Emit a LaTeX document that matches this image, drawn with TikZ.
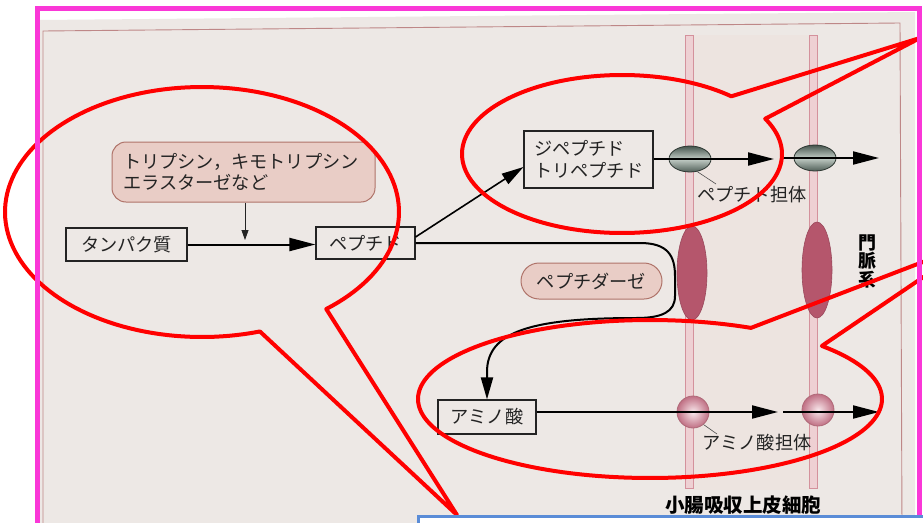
\documentclass[tikz,border=0pt]{standalone}
\usepackage{fontspec}
\newfontfamily\jp{Noto Sans CJK JP}
\usetikzlibrary{arrows.meta,shapes.geometric}
\definecolor{paper}{RGB}{237,232,229}
\definecolor{cellin}{RGB}{237,228,224}
\definecolor{frameline}{RGB}{190,135,135}
\definecolor{membr}{RGB}{212,145,156}
\definecolor{membrin}{RGB}{238,208,211}
\definecolor{chan}{RGB}{181,86,108}
\definecolor{enzfill}{RGB}{233,205,198}
\definecolor{enzdraw}{RGB}{175,115,105}
\definecolor{ink}{RGB}{35,35,35}
\definecolor{magentaf}{RGB}{250,55,215}
\definecolor{bluef}{RGB}{90,140,215}
\definecolor{calloutred}{RGB}{255,0,0}
\tikzset{
  jptext/.style={font={\jp\fontsize{18.2}{21.5}\selectfont}, text=ink},
  boxnode/.style={jptext, draw=ink, line width=1.1pt, fill=paper, inner sep=0pt},
  enzbox/.style={jptext, draw=enzdraw, fill=enzfill, line width=1pt},
  bigarrow/.style={draw=black, line width=2pt, -{Triangle[length=26pt,width=13pt]}},
  midarrow/.style={draw=black, line width=1.6pt, -{Triangle[length=22pt,width=12pt]}},
  thinarrow/.style={draw=ink, line width=0.8pt, -{Triangle[length=10pt,width=7pt]}},
  leader/.style={draw=ink!80, line width=0.6pt},
  pcarrier/.style={ellipse, minimum width=42pt, minimum height=26pt, inner sep=0pt,
    draw={rgb,255:red,45;green,55;blue,50}, line width=0.8pt,
    top color={rgb,255:red,70;green,85;blue,78}, bottom color={rgb,255:red,80;green,95;blue,88},
    middle color={rgb,255:red,195;green,205;blue,198}},
  acarrier/.style={circle, minimum size=32pt, inner sep=0pt,
    draw={rgb,255:red,175;green,105;blue,120}, line width=0.8pt,
    inner color={rgb,255:red,248;green,232;blue,236}, outer color={rgb,255:red,192;green,112;blue,132}},
  callout/.style={draw=calloutred, line width=4pt, line join=round},
  boldlab/.style={font={\jp\bfseries\fontsize{18}{18.5}\selectfont}, text=black},
}
\begin{document}
\begin{tikzpicture}[x=1pt,y=-1pt]
\useasboundingbox (0,0) rectangle (923,522);
\clip (0,0) rectangle (923,522);
\fill[white] (0,0) rectangle (923,522);
% scanned paper
\fill[paper] (40,20) -- (915,12) -- (915,530) -- (40,530) -- cycle;
\draw[frameline, line width=0.9pt] (43,530) -- (43,31) -- (900,23) -- (902,530);
% cell interior tint
\fill[cellin] (693,35) rectangle (809,490);
% membranes
\filldraw[fill=membrin, draw=membr, line width=0.9pt] (685,35) rectangle (693,488);
\filldraw[fill=membrin, draw=membr, line width=0.9pt] (809,35) rectangle (817,488);
% channels
\filldraw[fill=chan, draw=chan!85!black, line width=0.6pt] (692,273) ellipse [x radius=15pt, y radius=47pt];
\filldraw[fill=chan, draw=chan!85!black, line width=0.6pt] (817,270) ellipse [x radius=15pt, y radius=48pt];
% carriers
\node[pcarrier] (pc1) at (690,159) {};
\node[pcarrier] (pc2) at (815,158) {};
\node[acarrier] (ac1) at (693,412) {};
\node[acarrier] (ac2) at (818,410) {};

% boxes
\node[enzbox, rounded corners=14pt, inner xsep=11pt, inner ysep=0pt, text width=241pt, minimum height=60pt, align=left]
  (enz) at (243.5,172) {トリプシン，キモトリプシン\\エラスターゼなど};
\node[boxnode, minimum width=121pt, minimum height=33pt] (tp) at (126.5,244.5) {タンパク質};
\node[boxnode, minimum width=99pt, minimum height=32pt] (pep) at (365.5,243) {ペプチド};
\node[boxnode, inner xsep=10pt, text width=109pt, minimum height=57pt, align=left] (dip) at (588.5,159.5) {ジペプチド\\トリペプチド};
\node[enzbox, rounded corners=18pt, minimum width=141pt, minimum height=36pt, inner sep=0pt] (ptd) at (591.5,281) {ペプチダーゼ};
\node[boxnode, minimum width=98pt, minimum height=34pt] (am) at (487,417) {アミノ酸};

% labels
\node[jptext] (pclab) at (752,195) {ペプチド担体};
\node[jptext] (aclab) at (757,443) {アミノ酸担体};
\node[boldlab, align=center] (portal) at (867,261) {門\\脈\\系};
\node[boldlab, font={\jp\bfseries\fontsize{19.5}{21}\selectfont}] (cell) at (743,505) {小腸吸収上皮細胞};

% coordinates
\coordinate (enzEnd) at (245,240);
\coordinate (p1e) at (774,159);
\coordinate (p2s) at (780,158);
\coordinate (p2e) at (879,158);
\coordinate (a1e) at (778,412);
\coordinate (a2s) at (783,412);
\coordinate (a2e) at (879,412);
\coordinate (pcl) at (716,184);
\coordinate (acl) at (717,434);

% connectors
\draw[thinarrow] (enz.south -| enzEnd) -- (enzEnd);
\draw[bigarrow] (tp.east) -- (tp.east -| pep.west);
\draw[midarrow] ([yshift=6pt]pep.east) -- ([yshift=-7.5pt]dip.west);
\draw[bigarrow] (dip.east |- p1e) -- (p1e);
\draw[bigarrow] (p2s) -- (p2e);
\draw[bigarrow] (am.east |- a1e) -- (a1e);
\draw[bigarrow] (a2s) -- (a2e);
\draw[line width=2pt, -{Triangle[length=22pt,width=12pt]}]
  (pep.east) -- (640,243) .. controls (668,243) and (675,256) .. (675,276)
  -- (675,296) .. controls (675,312) and (662,318) .. (636,318)
  .. controls (530,318) and (487,332) .. (487,372) -- (am.north);
\draw[leader] (pc1.-60) -- (pcl);
\draw[leader] (ac1.-50) -- (acl);

% red callouts
\draw[callout] plot[samples=150, domain=72.9:410.9] ({202+197*cos(\x)},{212+125*sin(\x)}) -- (457,515) -- cycle;
\draw[callout] plot[samples=150, domain=-26.5:313.1] ({622+160*cos(\x)},{154+79*sin(\x)}) -- (920,38) -- cycle;
\draw[callout] plot[samples=150, domain=-42.2:295.8] ({650+232*cos(\x)},{399+79*sin(\x)}) -- (975,242) -- cycle;

% magenta frame
\draw[magentaf, line width=5pt] (37,540) -- (37,8.5) -- (919.5,8.5) -- (919.5,540);
% blue box at bottom
\draw[bluef, line width=3pt, fill=white] (418.5,516.5) rectangle (940,545);
\end{tikzpicture}
\end{document}
